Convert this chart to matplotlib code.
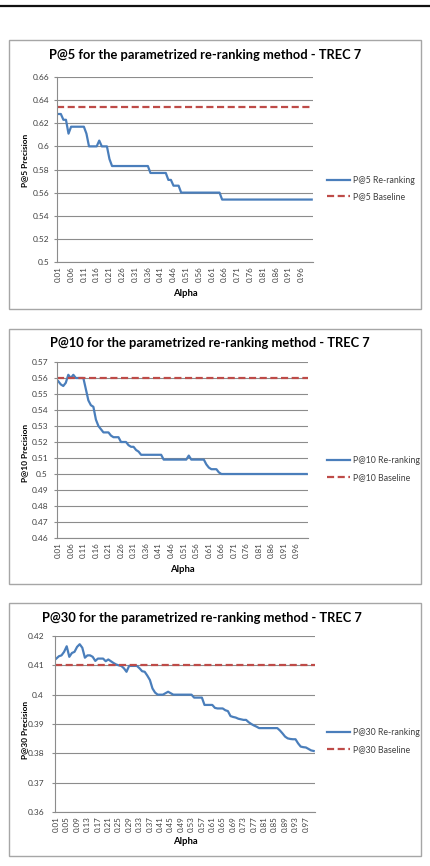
"""
    Recreate the three TREC 7 re-ranking precision charts
"""
import matplotlib
matplotlib.use('Agg')
import matplotlib.pyplot as plt
from matplotlib.patches import Rectangle
from matplotlib.lines import Line2D

plt.rcParams['font.family'] = ['Lato', 'DejaVu Sans']

alpha = ['%.2f' % (k / 100) for k in range(1, 101)]

p5_rerank = [
    0.628, 0.628, 0.623, 0.623, 0.611, 0.617, 0.617, 0.617, 0.617, 0.617,
    0.617, 0.611, 0.600, 0.600, 0.600, 0.600, 0.605, 0.600, 0.600, 0.600,
    0.589, 0.583, 0.583, 0.583, 0.583, 0.583, 0.583, 0.583, 0.583, 0.583,
    0.583, 0.583, 0.583, 0.583, 0.583, 0.583, 0.577, 0.577, 0.577, 0.577,
    0.577, 0.577, 0.577, 0.571, 0.571, 0.566, 0.566, 0.566, 0.560, 0.560,
    0.560, 0.560, 0.560, 0.560, 0.560, 0.560, 0.560, 0.560, 0.560, 0.560,
    0.560, 0.560, 0.560, 0.560, 0.554, 0.554, 0.554, 0.554, 0.554, 0.554,
    0.554, 0.554, 0.554, 0.554, 0.554, 0.554, 0.554, 0.554, 0.554, 0.554,
    0.554, 0.554, 0.554, 0.554, 0.554, 0.554, 0.554, 0.554, 0.554, 0.554,
    0.554, 0.554, 0.554, 0.554, 0.554, 0.554, 0.554, 0.554, 0.554, 0.554,
]
p5_base = 0.634

p10_rerank = [
    0.558, 0.556, 0.555, 0.557, 0.562, 0.560, 0.562, 0.560, 0.560, 0.560,
    0.560, 0.553, 0.546, 0.543, 0.542, 0.534, 0.530, 0.528, 0.526, 0.526,
    0.526, 0.524, 0.523, 0.523, 0.523, 0.520, 0.520, 0.520, 0.518, 0.517,
    0.517, 0.515, 0.514, 0.512, 0.512, 0.512, 0.512, 0.512, 0.512, 0.512,
    0.512, 0.512, 0.509, 0.509, 0.509, 0.509, 0.509, 0.509, 0.509, 0.509,
    0.509, 0.509, 0.5115, 0.509, 0.509, 0.509, 0.509, 0.509, 0.509, 0.506,
    0.504, 0.503, 0.503, 0.503, 0.501, 0.500, 0.500, 0.500, 0.500, 0.500,
    0.500, 0.500, 0.500, 0.500, 0.500, 0.500, 0.500, 0.500, 0.500, 0.500,
    0.500, 0.500, 0.500, 0.500, 0.500, 0.500, 0.500, 0.500, 0.500, 0.500,
    0.500, 0.500, 0.500, 0.500, 0.500, 0.500, 0.500, 0.500, 0.500, 0.500,
]
p10_base = 0.560

p30_rerank = [
    0.4123, 0.4131, 0.4134, 0.4146, 0.4165, 0.4129, 0.4142, 0.4146, 0.4163, 0.4172,
    0.4160, 0.4126, 0.4134, 0.4134, 0.4129, 0.4115, 0.4123, 0.4123, 0.4123, 0.4114,
    0.4120, 0.4114, 0.4108, 0.4103, 0.4100, 0.4098, 0.4090, 0.4078, 0.4098, 0.4098,
    0.4098, 0.4098, 0.4090, 0.4080, 0.4078, 0.4065, 0.4050, 0.4021, 0.4007, 0.4000,
    0.4000, 0.4000, 0.4005, 0.4010, 0.4005, 0.4000, 0.4000, 0.4000, 0.4000, 0.4000,
    0.4000, 0.4000, 0.4000, 0.3990, 0.3990, 0.3990, 0.3990, 0.3965, 0.3965, 0.3965,
    0.3965, 0.3955, 0.3953, 0.3953, 0.3953, 0.3947, 0.3944, 0.3927, 0.3924, 0.3922,
    0.3918, 0.3916, 0.3914, 0.3914, 0.3906, 0.3900, 0.3895, 0.3891, 0.3886, 0.3886,
    0.3886, 0.3886, 0.3886, 0.3886, 0.3886, 0.3886, 0.3878, 0.3868, 0.3857, 0.3851,
    0.3849, 0.3848, 0.3848, 0.3834, 0.3823, 0.3821, 0.3820, 0.3815, 0.3810, 0.3808,
]
p30_base = 0.410

W, H = 430, 866
BLUE = '#4a7ebb'
RED = '#be4b48'
GRID = '#8c8c8c'
TXT = '#404040'


def fx(px):
    return px / W


def fy(py):
    return 1 - py / H


def draw_panel(fig, box, axbox, title, title_x, title_y, ylab, ylab_y,
               xlab_y, leg_y, values, base, yticks, ystr, xstep, ypad):
    """
        Draws one chart panel: frame, axes, title, labels and legend
    """
    x0, y0, x1, y1 = box
    fig.add_artist(Rectangle((fx(x0), fy(y1)), fx(x1 - x0), (y1 - y0) / H,
                             transform=fig.transFigure, fill=False,
                             edgecolor='#a6a6a6', linewidth=1))
    l, t, r, b = axbox
    ax = fig.add_axes([fx(l), fy(b), fx(r - l), (b - t) / H])
    n = len(values)
    xs = list(range(n))
    ax.plot(xs, values, color=BLUE, linewidth=1.6, label=ylab.split()[0] + ' Re-ranking')
    ax.plot([-0.5, n - 0.5], [base, base], color=RED, linewidth=1.6,
            dashes=(3.2, 1.6), label=ylab.split()[0] + ' Baseline')
    ax.set_xlim(-0.5, n - 0.5)
    ax.set_ylim(yticks[0], yticks[-1])
    ax.set_yticks(yticks)
    ax.set_yticklabels(ystr, fontsize=6, color=TXT)
    ax.set_xticks(xs[::xstep])
    ax.set_xticklabels(alpha[::xstep], rotation=90, fontsize=5.8, color=TXT)
    ax.tick_params(axis='x', length=0, pad=3)
    ax.tick_params(axis='y', length=2.5, color=GRID, pad=ypad)
    ax.grid(axis='y', color=GRID, linewidth=0.8)
    ax.set_axisbelow(True)
    for s in ['top', 'right']:
        ax.spines[s].set_visible(False)
    for s in ['left', 'bottom']:
        ax.spines[s].set_color(GRID)
        ax.spines[s].set_linewidth(0.8)
    fig.text(fx(title_x), fy(title_y), title, ha='center', va='center',
             fontsize=9.3, fontweight='bold', color='#000000')
    fig.text(fx(25), fy(ylab_y), ylab, ha='center', va='center', rotation=90,
             fontsize=6, fontweight='bold', color='#000000')
    fig.text(fx((l + r) / 2), fy(xlab_y), 'Alpha', ha='center', va='center',
             fontsize=6.8, fontweight='bold', color='#000000')
    ax.legend(loc='center left', bbox_to_anchor=(fx(323), fy(leg_y)),
              bbox_transform=fig.transFigure, frameon=False, fontsize=6.3,
              handlelength=2.6, handletextpad=0.3, labelspacing=0.85,
              labelcolor=TXT, borderpad=0)
    return ax


fig = plt.figure(figsize=(W / 100, H / 100), dpi=100)
fig.add_artist(Line2D([0, 1], [fy(6), fy(6)], transform=fig.transFigure,
                      color='#111111', linewidth=1.6))

draw_panel(fig, (9, 40, 421, 309), (57, 77, 313, 262),
           'P@5 for the parametrized re-ranking method - TREC 7', 205, 55,
           'P@5 Precision', 160, 293, 188.5, p5_rerank, p5_base,
           [0.5, 0.52, 0.54, 0.56, 0.58, 0.6, 0.62, 0.64, 0.66],
           ['0.5', '0.52', '0.54', '0.56', '0.58', '0.6', '0.62', '0.64', '0.66'], 5, 3)

draw_panel(fig, (9, 329, 421, 584), (57, 362, 308, 538),
           'P@10 for the parametrized re-ranking method - TREC 7', 210, 343,
           'P@10 Precision', 453, 569, 469, p10_rerank, p10_base,
           [0.46, 0.47, 0.48, 0.49, 0.5, 0.51, 0.52, 0.53, 0.54, 0.55, 0.56, 0.57],
           ['0.46', '0.47', '0.48', '0.49', '0.5', '0.51', '0.52', '0.53', '0.54',
            '0.55', '0.56', '0.57'], 5, 4)

draw_panel(fig, (9, 603, 421, 856), (55, 636, 315, 812),
           'P@30 for the parametrized re-ranking method - TREC 7', 202, 618,
           'P@30 Precision', 730, 842, 741, p30_rerank, p30_base,
           [0.36, 0.37, 0.38, 0.39, 0.4, 0.41, 0.42],
           ['0.36', '0.37', '0.38', '0.39', '0.4', '0.41', '0.42'], 4, 5.5)

fig.savefig('out.png', dpi=100)
